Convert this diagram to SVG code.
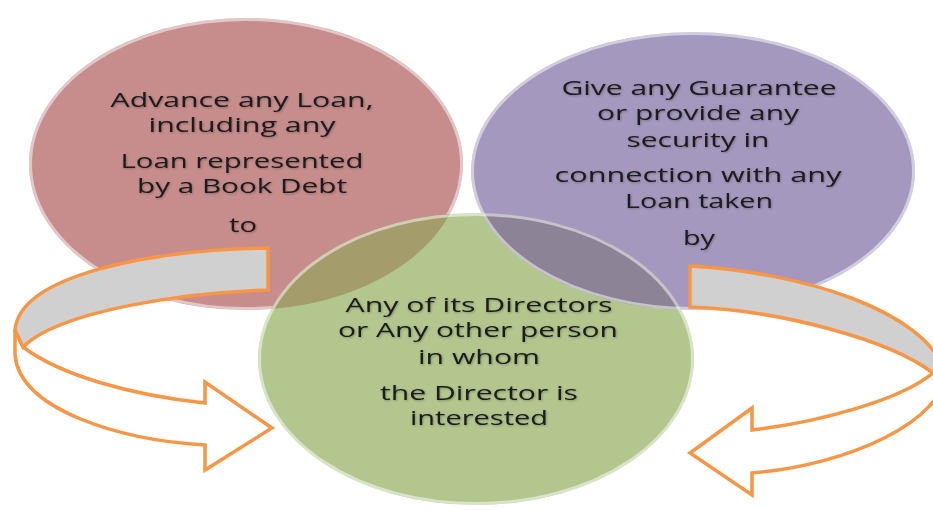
<svg xmlns="http://www.w3.org/2000/svg" width="933" height="510" viewBox="0 0 933 510">
  <style>
    .label { font-family: "Open Sans", "Liberation Sans", sans-serif; font-size: 19.5px; fill: #1a1a1a; text-anchor: middle; filter: url(#soft-shadow); }
    .rim { fill: none; stroke: #ffffff; stroke-opacity: 0.5; stroke-width: 3; }
    .arrow-line { stroke: #F79646; stroke-width: 3.5; stroke-linejoin: miter; }
    .band-back { fill: #D0D0D0; }
    .band-front { fill: #ffffff; }
  </style>
  <defs>
    <filter id="soft-shadow" x="-10%" y="-30%" width="120%" height="160%">
      <feDropShadow dx="0.8" dy="0.8" stdDeviation="0.9" flood-color="#000000" flood-opacity="0.3"/>
    </filter>
    <clipPath id="clip-advance"><ellipse cx="246" cy="164" rx="217" ry="146"/></clipPath>
    <clipPath id="clip-guarantee"><ellipse cx="693" cy="171" rx="222" ry="139"/></clipPath>
    <clipPath id="clip-directors"><ellipse cx="476" cy="359" rx="218" ry="146"/></clipPath>
  </defs>

  <rect width="933" height="510" fill="#ffffff"/>

  <!-- Loan advance circle -->
  <g id="node-advance">
    <ellipse cx="246" cy="164" rx="217" ry="146" fill="#C78C8C"/>
    <ellipse class="rim" cx="246" cy="164" rx="215.5" ry="144.5"/>
    <text class="label" x="242" y="107" textLength="263" lengthAdjust="spacingAndGlyphs">Advance any Loan,</text>
    <text class="label" x="242" y="132" textLength="187" lengthAdjust="spacingAndGlyphs">including any</text>
    <text class="label" x="242" y="168" textLength="243" lengthAdjust="spacingAndGlyphs">Loan represented</text>
    <text class="label" x="242" y="193" textLength="210" lengthAdjust="spacingAndGlyphs">by a Book Debt</text>
    <text class="label" x="243" y="232" textLength="28" lengthAdjust="spacingAndGlyphs">to</text>
  </g>

  <!-- Guarantee / security circle -->
  <g id="node-guarantee">
    <ellipse cx="693" cy="171" rx="222" ry="139" fill="#A598BE"/>
    <ellipse class="rim" cx="693" cy="171" rx="220.5" ry="137.5"/>
    <text class="label" x="699" y="95" textLength="275" lengthAdjust="spacingAndGlyphs">Give any Guarantee</text>
    <text class="label" x="698" y="120" textLength="202" lengthAdjust="spacingAndGlyphs">or provide any</text>
    <text class="label" x="698" y="147" textLength="143" lengthAdjust="spacingAndGlyphs">security in</text>
    <text class="label" x="698" y="182" textLength="287" lengthAdjust="spacingAndGlyphs">connection with any</text>
    <text class="label" x="699" y="208" textLength="148" lengthAdjust="spacingAndGlyphs">Loan taken</text>
    <text class="label" x="699" y="245" textLength="32" lengthAdjust="spacingAndGlyphs">by</text>
  </g>

  <!-- Directors circle, with the tinted overlaps of the other two circles -->
  <g id="node-directors">
    <ellipse cx="476" cy="359" rx="218" ry="146" fill="#B2C68E"/>
    <ellipse cx="476" cy="359" rx="218" ry="146" fill="#A59C6C" clip-path="url(#clip-advance)"/>
    <ellipse cx="476" cy="359" rx="218" ry="146" fill="#8C8496" clip-path="url(#clip-guarantee)"/>
    <ellipse class="rim" cx="693" cy="171" rx="220.5" ry="137.5" clip-path="url(#clip-directors)"/>
    <ellipse class="rim" cx="476" cy="359" rx="216.5" ry="144.5"/>
    <text class="label" x="479" y="312" textLength="267" lengthAdjust="spacingAndGlyphs">Any of its Directors</text>
    <text class="label" x="478" y="337" textLength="280" lengthAdjust="spacingAndGlyphs">or Any other person</text>
    <text class="label" x="479" y="364" textLength="122" lengthAdjust="spacingAndGlyphs">in whom</text>
    <text class="label" x="479" y="400" textLength="198" lengthAdjust="spacingAndGlyphs">the Director is</text>
    <text class="label" x="479" y="425" textLength="138" lengthAdjust="spacingAndGlyphs">interested</text>
  </g>

  <!-- Curved ribbon arrows -->
  <g id="connectors">
    <g id="arrow-left">
      <path class="band-front arrow-line" d="M23,347 C60,375 130,395 205,403 L205,382 L272,428 L205,470 L205,445 C120,440 20,410 15,355 L15,330 Z"/>
      <path class="band-back arrow-line" d="M268,248 L268,290 C190,292 60,310 23,347 L15,330 C20,275 150,250 268,248 Z"/>
    </g>
    <g id="arrow-right">
      <path class="band-front arrow-line" d="M933,373 C900,400 820,422 752,430 L752,408 L690,453 L752,495 L752,473 C850,465 945,420 945,372 Z"/>
      <path class="band-back arrow-line" d="M690,266 L690,307 C780,310 890,340 933,373 L945,372 C925,310 800,272 690,266 Z"/>
    </g>
  </g>
</svg>
